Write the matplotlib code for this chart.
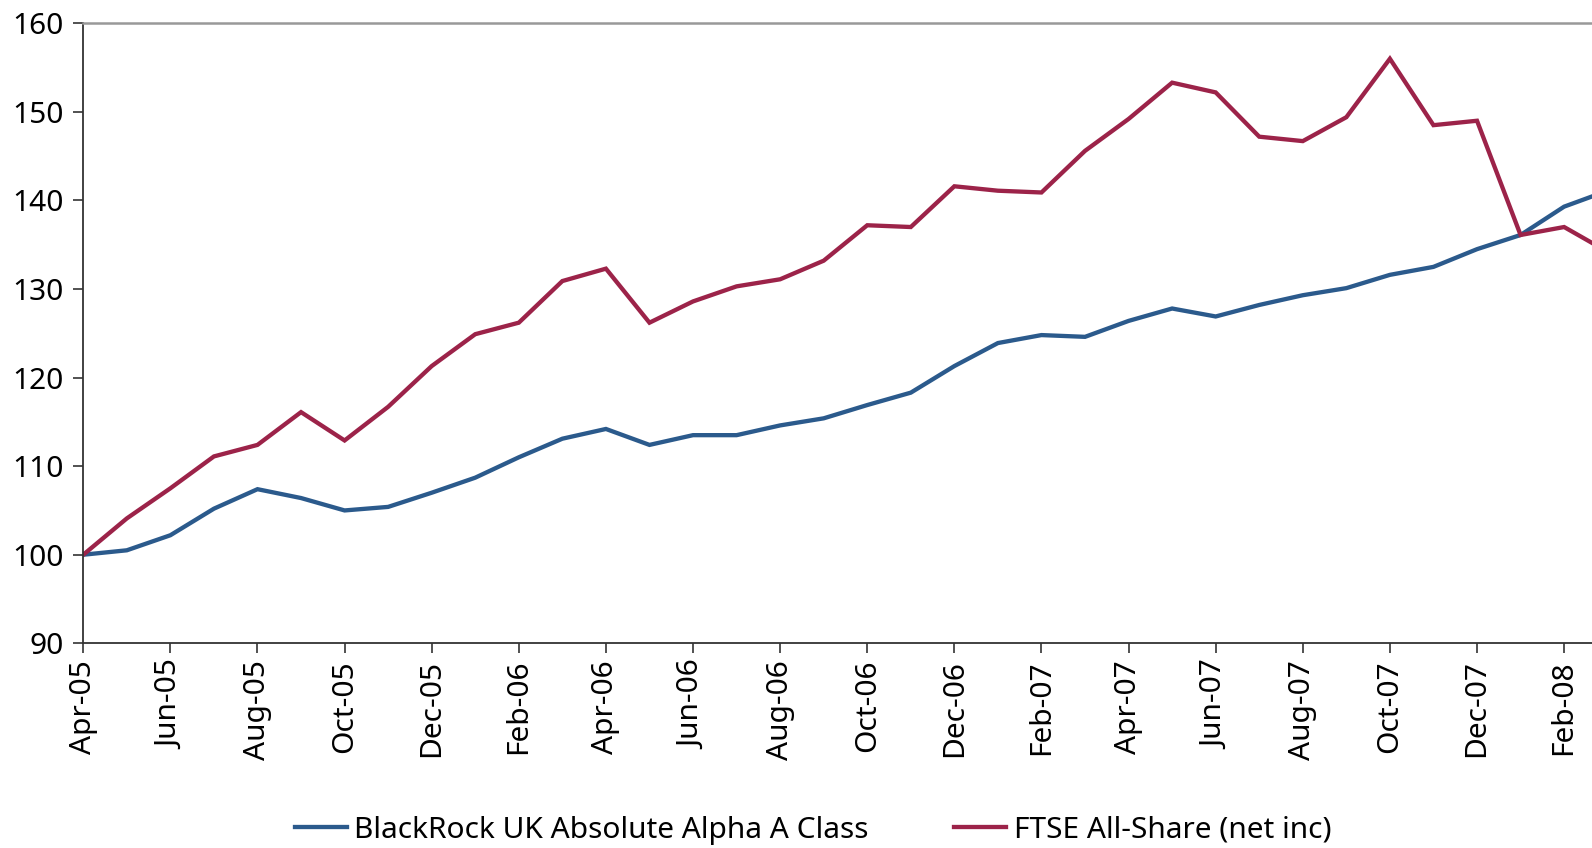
import matplotlib
matplotlib.use('Agg')
import matplotlib.pyplot as plt
import numpy as np

plt.rcParams['font.family'] = ['Noto Sans', 'DejaVu Sans']

# monthly index values, Apr-05 .. Mar-08 (rebased to 100)
months = ['Apr-05', 'May-05', 'Jun-05', 'Jul-05', 'Aug-05', 'Sep-05', 'Oct-05', 'Nov-05',
          'Dec-05', 'Jan-06', 'Feb-06', 'Mar-06', 'Apr-06', 'May-06', 'Jun-06', 'Jul-06',
          'Aug-06', 'Sep-06', 'Oct-06', 'Nov-06', 'Dec-06', 'Jan-07', 'Feb-07', 'Mar-07',
          'Apr-07', 'May-07', 'Jun-07', 'Jul-07', 'Aug-07', 'Sep-07', 'Oct-07', 'Nov-07',
          'Dec-07', 'Jan-08', 'Feb-08', 'Mar-08']
blackrock = [100, 100.5, 102.2, 105.2, 107.4, 106.4, 105.0, 105.4, 107.0, 108.7, 111.0, 113.1,
             114.2, 112.4, 113.5, 113.5, 114.6, 115.4, 116.9, 118.3, 121.3, 123.9, 124.8, 124.6,
             126.4, 127.8, 126.9, 128.2, 129.3, 130.1, 131.6, 132.5, 134.5, 136.1, 139.3, 141.1]
ftse = [100, 104.1, 107.5, 111.1, 112.4, 116.1, 112.9, 116.7, 121.3, 124.9, 126.2, 130.9,
        132.3, 126.2, 128.6, 130.3, 131.1, 133.2, 137.2, 137.0, 141.6, 141.1, 140.9, 145.6,
        149.2, 153.3, 152.2, 147.2, 146.7, 149.4, 156.0, 148.5, 149.0, 136.1, 137.0, 134.2]

labels = ['BlackRock UK Absolute Alpha A Class', 'FTSE All-Share (net inc)']
colors = ['#2B5A8C', '#9C2349']

fig = plt.figure(figsize=(15.92, 8.48), dpi=100)
ax = fig.add_axes([0.0523, 0.2414, 0.9477, 0.7311])

x = np.arange(len(months))
ax.plot(x, blackrock, color=colors[0], lw=3.1, label=labels[0], solid_joinstyle='miter')
ax.plot(x, ftse, color=colors[1], lw=3.1, label=labels[1], solid_joinstyle='miter')

ax.set_ylim(90, 160)
ax.set_yticks(np.arange(90, 161, 10))
ax.set_xlim(0, 34.64)
ax.set_xticks(x[::2])
ax.set_xticklabels(months[::2], rotation=90)

ax.spines['right'].set_visible(False)
ax.spines['top'].set_color('#999999')
ax.spines['top'].set_linewidth(1.8)
for s in ['left', 'bottom']:
    ax.spines[s].set_color('#333333')
    ax.spines[s].set_linewidth(1.3)

ax.tick_params(axis='both', direction='out', length=7, width=1.2, color='#333333',
               labelsize=21.5, labelcolor='black')
ax.tick_params(axis='y', pad=7)
ax.tick_params(axis='x', pad=5)

fig.legend(loc='center', bbox_to_anchor=(0.5106, 0.021), ncol=2, frameon=False,
           fontsize=21.5, handlelength=1.75, handletextpad=0.25, columnspacing=2.85)

fig.savefig('out.png', dpi=100)
